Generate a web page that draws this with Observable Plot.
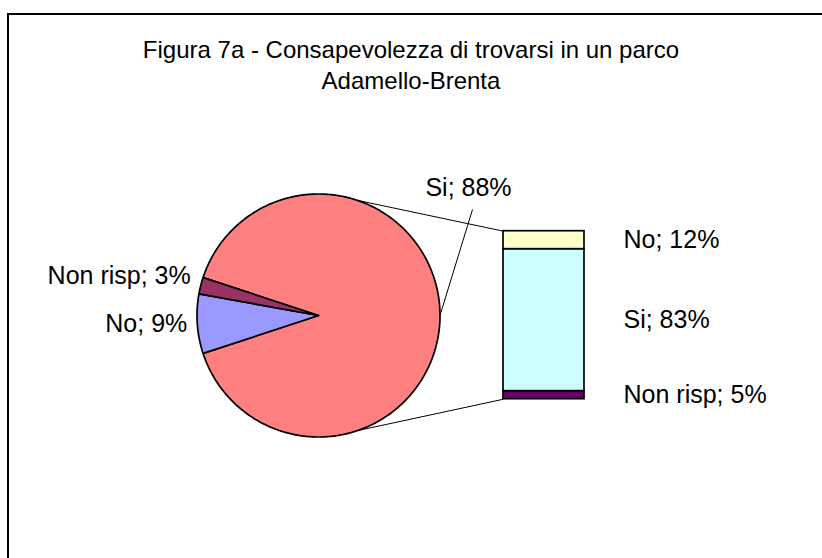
<!DOCTYPE html>
<html><head><meta charset="utf-8">
<script src="https://cdn.jsdelivr.net/npm/d3@7"></script>
<script src="https://cdn.jsdelivr.net/npm/@observablehq/plot@0.6"></script>
<style>
html,body{margin:0;padding:0;background:#fff;overflow:hidden;width:822px;height:558px;}
#frame{position:absolute;left:7px;top:13px;width:815px;height:545px;border-left:2px solid #000;border-top:2px solid #000;box-sizing:border-box;}
#title{position:absolute;left:0;top:34px;width:822px;text-align:center;font-family:"Liberation Sans",Arial,sans-serif;font-size:24px;line-height:31px;color:#000;}
#chart{position:absolute;left:0;top:110px;width:822px;height:448px;}
</style></head><body>
<div id="frame"></div>
<div id="title">Figura 7a - Consapevolezza di trovarsi in un parco<br>Adamello-Brenta</div>
<div id="chart"></div>
<script>
// ---- data ----
const pieCategories = ["Si", "No", "Non risp"];
const pieShares = [89.9, 7.9, 2.2];          // slice sizes as drawn
const pieLabels = ["88%", "9%", "3%"];        // printed labels
const pieColors = ["#FF8080", "#9999FF", "#993366"];

const barCategories = ["Non risp", "Si", "No"]; // bottom to top
const barShares = [4.8, 84.5, 10.7];
const barLabels = ["5%", "83%", "12%"];
const barColors = ["#660066", "#CCFFFF", "#FFFFCC"];

// ---- layout ----
const W = 822, H = 448, K = 121.5;   // px per unit (unit = pie radius)
const CX = 318, CY = 205;            // pie centre (svg px)
const xDomain = [-CX / K, (W - CX) / K];
const yDomain = [-(H - CY) / K, CY / K];
const BX1 = (503 - CX) / K, BX2 = (584 - CX) / K;   // bar left/right
const BTOP = (CY - 120.7) / K, BBOT = (CY - 288.7) / K; // bar top/bottom
const CONNECT_DEG = 71.5;
const rad = d => d * Math.PI / 180;

// pie polygons
const a0 = pieShares[0] / 2 * 3.6;
let cum = 0;
const piePts = [];
const pieMid = [];
pieCategories.forEach((cat, i) => {
  const s = a0 - cum * 3.6, e = a0 - (cum + pieShares[i]) * 3.6;
  cum += pieShares[i];
  pieMid.push((s + e) / 2);
  const n = Math.max(2, Math.ceil(Math.abs(s - e)));
  piePts.push({cat, x: 0, y: 0, color: pieColors[i]});
  for (let j = 0; j <= n; j++) {
    const a = rad(s + (e - s) * j / n);
    piePts.push({cat, x: Math.cos(a), y: Math.sin(a), color: pieColors[i]});
  }
  piePts.push({cat, x: 0, y: 0, color: pieColors[i]});
});

// bar rects
let bc = 0;
const barData = barCategories.map((cat, i) => {
  const y1 = BBOT + (BTOP - BBOT) * bc / 100;
  bc += barShares[i];
  const y2 = BBOT + (BTOP - BBOT) * bc / 100;
  return {cat, y1, y2, ym: (y1 + y2) / 2, color: barColors[i], label: `${cat}; ${barLabels[i]}`};
});

// connectors
const links = [
  {x1: Math.cos(rad(CONNECT_DEG)), y1: Math.sin(rad(CONNECT_DEG)), x2: BX1, y2: BTOP},
  {x1: Math.cos(rad(-CONNECT_DEG)), y1: Math.sin(rad(-CONNECT_DEG)), x2: BX1, y2: BBOT}
];
// leader for the "Si" slice label
const siMid = rad(pieMid[0]);
const leaderTop = {x: (472 - CX) / K, y: (CY - 99) / K};
const leader = [{x1: Math.cos(siMid), y1: Math.sin(siMid), x2: leaderTop.x, y2: leaderTop.y}];

const pieText = pieCategories.map((cat, i) => {
  const a = rad(pieMid[i]);
  return {cat, x: Math.cos(a), y: Math.sin(a), label: `${cat}; ${pieLabels[i]}`};
});
const leftOffsets = {"No": {dx: -10, dy: 0}, "Non risp": {dx: -10, dy: -10}};

const font = '"Liberation Sans", Arial, sans-serif';
const FS = 25;

const chart = Plot.plot({
  width: W, height: H,
  margin: 0,
  x: {domain: xDomain, axis: null},
  y: {domain: yDomain, axis: null},
  color: {type: "identity"},
  style: {background: "transparent", fontFamily: font, fontSize: FS + "px", overflow: "visible"},
  marks: [
    Plot.link(links, {x1: "x1", y1: "y1", x2: "x2", y2: "y2", stroke: "#000", strokeWidth: 1}),
    Plot.link(leader, {x1: "x1", y1: "y1", x2: "x2", y2: "y2", stroke: "#000", strokeWidth: 1}),
    Plot.line(piePts, {x: "x", y: "y", z: "cat", fill: "color", stroke: "#000", strokeWidth: 1.7, strokeLinejoin: "round"}),
    Plot.rect(barData, {x1: () => BX1, x2: () => BX2, y1: "y1", y2: "y2", fill: "color", stroke: "#000", strokeWidth: 1.7}),
    Plot.text(barData, {x: () => BX2, y: "ym", text: "label", textAnchor: "start", dx: 39, fontSize: FS, fill: "#000"}),
    ...pieText.slice(1).map(d => Plot.text([d], {x: "x", y: "y", text: "label", textAnchor: "end",
        dx: leftOffsets[d.cat].dx, dy: leftOffsets[d.cat].dy, fontSize: FS, fill: "#000"})),
    Plot.text([pieText[0]], {x: () => leaderTop.x, y: () => leaderTop.y, text: "label", textAnchor: "middle",
        dx: -4, dy: -22, fontSize: FS, fill: "#000"})
  ]
});
document.getElementById("chart").appendChild(chart);
</script>
</body></html>
